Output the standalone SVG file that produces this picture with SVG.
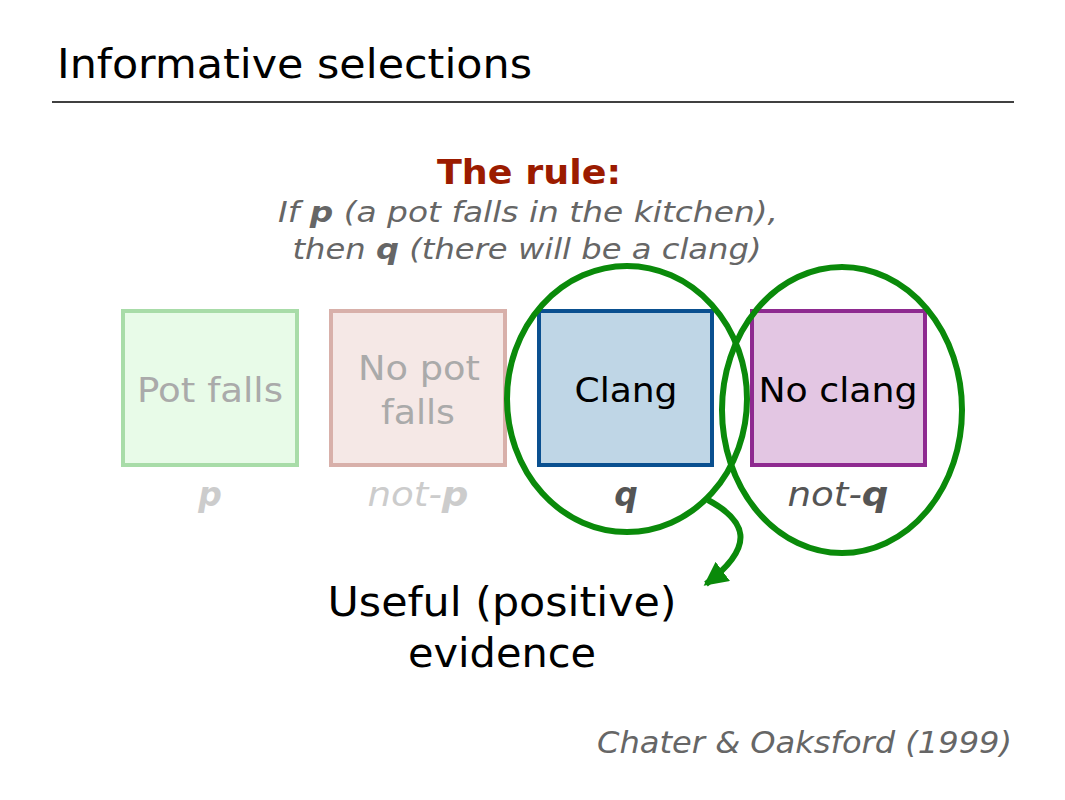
<svg xmlns="http://www.w3.org/2000/svg" width="1065" height="800" viewBox="0 0 1065 800">
<style>
text{font-family:"DejaVu Sans",Verdana,sans-serif}
.box{stroke-width:4}
.bl{font-size:34px;text-anchor:middle}
.lab{font-size:33px;text-anchor:middle;font-style:italic}
.ell{fill:none;stroke:#0a8a0a;stroke-width:6}
</style>
<defs><marker id="ah" markerWidth="4" markerHeight="4" refX="3.5" refY="2" orient="auto" markerUnits="strokeWidth"><path d="M0,0 L4,2 L0,4 z" fill="#0a8a0a"/></marker></defs>
<rect width="1065" height="800" fill="#fff"/>
<text x="57" y="78" font-size="40" textLength="475" lengthAdjust="spacingAndGlyphs">Informative selections</text>
<line x1="52" y1="102" x2="1014" y2="102" stroke="#000" stroke-width="1.5"/>
<text x="529" y="184" font-size="34" font-weight="bold" fill="#9b1b00" text-anchor="middle" textLength="184" lengthAdjust="spacingAndGlyphs">The rule:</text>
<text x="528" y="222" font-size="29" font-style="italic" fill="#666" text-anchor="middle" textLength="500" lengthAdjust="spacingAndGlyphs">If <tspan font-weight="bold">p</tspan> (a pot falls in the kitchen),</text>
<text x="527" y="259" font-size="29" font-style="italic" fill="#666" text-anchor="middle" textLength="469" lengthAdjust="spacingAndGlyphs">then <tspan font-weight="bold">q</tspan> (there will be a clang)</text>
<g id="n1"><rect class="box" x="123" y="311" width="174" height="154" fill="#e8fbe8" stroke="#a8dca8"/><text class="bl" x="210" y="402" fill="#aaa" textLength="146" lengthAdjust="spacingAndGlyphs">Pot falls</text><text class="lab" x="210" y="506" fill="#ccc" font-weight="bold">p</text></g>
<g id="n2"><rect class="box" x="331" y="311" width="174" height="154" fill="#f5e8e6" stroke="#d8b0aa"/><text class="bl" x="419" y="380" fill="#aaa" textLength="122" lengthAdjust="spacingAndGlyphs">No pot</text><text class="bl" x="418" y="424" fill="#aaa" textLength="74" lengthAdjust="spacingAndGlyphs">falls</text><text class="lab" x="418" y="506" fill="#ccc" textLength="101" lengthAdjust="spacingAndGlyphs">not-<tspan font-weight="bold">p</tspan></text></g>
<g id="n3"><rect class="box" x="539" y="311" width="173" height="154" fill="#bfd6e6" stroke="#0a5090"/><text class="bl" x="626" y="402" fill="#000" textLength="103" lengthAdjust="spacingAndGlyphs">Clang</text><text class="lab" x="626" y="506" fill="#555" font-weight="bold">q</text></g>
<g id="n4"><rect class="box" x="752" y="311" width="173" height="154" fill="#e3c6e3" stroke="#8e2a90"/><text class="bl" x="838" y="402" fill="#000" textLength="159" lengthAdjust="spacingAndGlyphs">No clang</text><text class="lab" x="838" y="506" fill="#555" textLength="101" lengthAdjust="spacingAndGlyphs">not-<tspan font-weight="bold">q</tspan></text></g>
<g id="connectors">
<ellipse class="ell" cx="627" cy="399" rx="120" ry="133"/>
<ellipse class="ell" cx="842" cy="410" rx="120" ry="143"/>
<path d="M708,500 C745,520 758,545 706,584" fill="none" stroke="#0a8a0a" stroke-width="6" marker-end="url(#ah)"/>
</g>
<text x="502" y="616" font-size="40" text-anchor="middle" textLength="349" lengthAdjust="spacingAndGlyphs">Useful (positive)</text>
<text x="502" y="667" font-size="40" text-anchor="middle" textLength="188" lengthAdjust="spacingAndGlyphs">evidence</text>
<text x="1012" y="753" font-size="31" font-style="italic" fill="#666" text-anchor="end" textLength="415" lengthAdjust="spacingAndGlyphs">Chater &amp; Oaksford (1999)</text>
</svg>
